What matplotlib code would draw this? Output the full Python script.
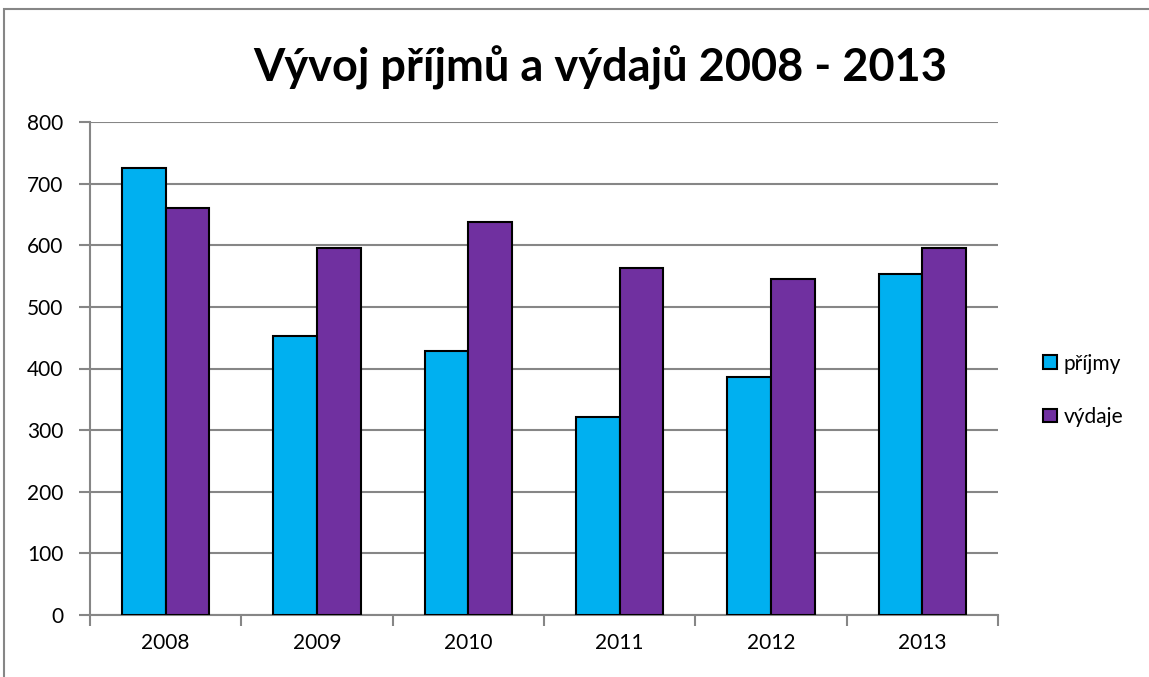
import matplotlib
matplotlib.use("Agg")
import matplotlib.pyplot as plt
import matplotlib.patches as mpatches
import numpy as np

years = ["2008", "2009", "2010", "2011", "2012", "2013"]
prijmy = [726, 453, 429, 322, 387, 553]
vydaje = [661, 595, 637, 563, 546, 596]

C_PRIJMY = "#00b0f0"
C_VYDAJE = "#7030a0"
GRID = "#868686"

plt.rcParams["font.family"] = ["Lato", "DejaVu Sans"]

fig = plt.figure(figsize=(11.49, 6.77), dpi=100)
ax = fig.add_axes([90 / 1149, 62 / 677, 908 / 1149, 493 / 677])

x = np.arange(len(years))
w = 0.289
ax.bar(x - w / 2, prijmy, w, color=C_PRIJMY, edgecolor="black", linewidth=1.5,
       label="příjmy", zorder=3)
ax.bar(x + w / 2, vydaje, w, color=C_VYDAJE, edgecolor="black", linewidth=1.5,
       label="výdaje", zorder=3)

ax.set_xlim(-0.5, len(years) - 0.5)
ax.set_ylim(0, 800)
ax.set_yticks(range(0, 801, 100))
ax.yaxis.grid(True, color=GRID, linewidth=1.5, zorder=0)

# category labels centred, tick marks on boundaries
ax.set_xticks(x)
ax.set_xticklabels(years, fontsize=15)
ax.tick_params(axis="x", length=0, pad=13)
ax.set_xticks(np.arange(-0.5, len(years)), minor=True)
ax.tick_params(axis="x", which="minor", length=8, color=GRID, width=1.5)
ax.tick_params(axis="y", length=8, color=GRID, width=1.5, labelsize=15, pad=11)

for s in ["top", "right"]:
    ax.spines[s].set_visible(False)
for s in ["left", "bottom"]:
    ax.spines[s].set_color(GRID)
    ax.spines[s].set_linewidth(1.5)

fig.text(0.522, 1 - 68 / 677, "Vývoj příjmů a výdajů 2008 - 2013", ha="center",
         va="center", fontsize=32.5, fontweight="bold")

ax.legend(loc="center left", bbox_to_anchor=(1.029, 0.456), frameon=False,
          fontsize=15, handlelength=0.65, handleheight=0.65, handletextpad=0.35,
          labelspacing=1.6)

# outer chart border
fig.patches.append(mpatches.Rectangle((4 / 1149, -0.1), 1.2, 1 - 9 / 677 + 0.1,
                                      transform=fig.transFigure, fill=False,
                                      edgecolor=GRID, linewidth=1.5))

fig.savefig("out.png", dpi=100)
